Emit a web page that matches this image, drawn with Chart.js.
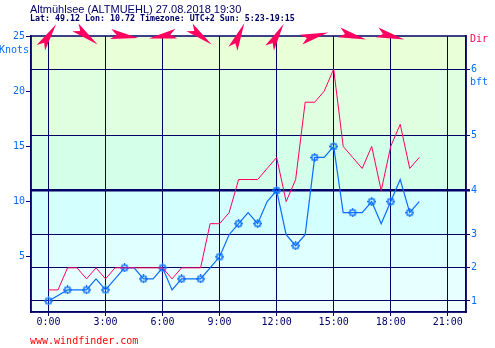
<!DOCTYPE html>
<html>
<head>
<meta charset="utf-8">
<title>Altmühlsee wind</title>
<script src="https://cdn.jsdelivr.net/npm/chart.js@4/dist/chart.umd.min.js"></script>
<style>
  html, body { margin: 0; padding: 0; background: #ffffff; }
  #wrap { width: 495px; height: 348px; position: relative; }
</style>
</head>
<body>
<div id="wrap"><canvas id="windChart" width="495" height="348"></canvas></div>
<script>
// data (knots, local time)
const hours = [0, 0.5, 1, 1.5, 2, 2.5, 3, 3.5, 4, 4.5, 5, 5.5, 6, 6.5, 7, 7.5, 8, 8.5, 9, 9.5,
               10, 10.5, 11, 11.5, 12, 12.5, 13, 13.5, 14, 14.5, 15, 15.5, 16, 16.5, 17, 17.5, 18, 18.5, 19, 19.5];
const windSpeed = [1, 1.5, 2, 2, 2, 3, 2, 3, 4, 4, 3, 3, 4, 2, 3, 3, 3, 4, 5, 7,
                   8, 9, 8, 10, 11, 7, 6, 7, 14, 14, 15, 9, 9, 9, 10, 8, 10, 12, 9, 10];
const windGusts = [2, 2, 4, 4, 3, 4, 3, 4, 4, 4, 4, 4, 4, 3, 4, 4, 4, 8, 8, 9,
                   12, 12, 12, 13, 14, 10, 12, 19, 19, 20, 22, 15, 14, 13, 15, 11, 15, 17, 13, 14];

const dirHours = [0, 2, 4, 6, 8, 10, 12, 14, 16, 18];
const dirFrom = [213, 308, 278, 80, 308, 204, 210, 255, 285, 285];   // degrees, wind comes from

const hourTicks = [0, 3, 6, 9, 12, 15, 18, 21];
const knotTicks = [5, 10, 15, 20, 25];
const bftKnots = [1, 4, 7, 11, 16, 22];
const bftLevels = ["1", "2", "3", "4", "5", "6"];
const bandEdges = [0, 1, 4, 7, 11, 16, 22, 25];
const bandColors = ["#f0ffff", "#e8ffff", "#e0ffff", "#d4ffff", "#d4ffe8", "#e0ffe0", "#e8ffd8"];

const NAVY = "#000066";
const BLUE = "#0a6cff";
const RED = "#ff0060";

document.addEventListener("DOMContentLoaded", () => {
    const canvas = document.querySelector("#windChart");

    // little square marker with crosshair ticks
    const marker = document.createElement("canvas");
    marker.width = 9;
    marker.height = 9;
    const m = marker.getContext("2d");
    m.strokeStyle = BLUE;
    m.lineWidth = 1.3;
    m.strokeRect(2, 2, 5, 5);
    m.beginPath();
    m.moveTo(4.5, 0); m.lineTo(4.5, 2);
    m.moveTo(4.5, 7); m.lineTo(4.5, 9);
    m.moveTo(0, 4.5); m.lineTo(2, 4.5);
    m.moveTo(7, 4.5); m.lineTo(9, 4.5);
    m.stroke();

    const bands = {
        id: "bands",
        beforeDraw(chart) {
            const { ctx, chartArea, scales } = chart;
            ctx.save();
            for (let i = 0; i < bandColors.length; i++) {
                const y1 = scales.y.getPixelForValue(bandEdges[i + 1]);
                const y0 = scales.y.getPixelForValue(bandEdges[i]);
                ctx.fillStyle = bandColors[i];
                ctx.fillRect(chartArea.left, y1, chartArea.right - chartArea.left, y0 - y1);
            }
            ctx.restore();
        }
    };

    const decor = {
        id: "decor",
        afterDraw(chart) {
            const { ctx, chartArea, scales } = chart;
            ctx.save();

            // frame
            ctx.strokeStyle = NAVY;
            ctx.lineWidth = 1.5;
            ctx.strokeRect(chartArea.left, chartArea.top, chartArea.right - chartArea.left, chartArea.bottom - chartArea.top);

            // header
            ctx.fillStyle = NAVY;
            ctx.textBaseline = "alphabetic";
            ctx.textAlign = "left";
            ctx.font = '11px "Liberation Sans"';
            ctx.fillText("Altmühlsee (ALTMUEHL) 27.08.2018 19:30", 30, 13);
            ctx.font = 'bold 8.3px "DejaVu Sans Mono"';
            ctx.fillText("Lat: 49.12 Lon: 10.72 Timezone: UTC+2 Sun: 5:23-19:15", 30, 21);

            // axis captions
            ctx.font = '10px "DejaVu Sans Mono"';
            ctx.fillStyle = BLUE;
            ctx.textAlign = "right";
            ctx.fillText("Knots", 29, 53);
            ctx.textAlign = "left";
            ctx.fillText("bft", 470, 85);
            ctx.fillStyle = RED;
            ctx.fillText("Dir", 470, 42);

            ctx.fillStyle = "#ff0000";
            ctx.fillText("www.windfinder.com", 30, 344);

            // direction darts
            ctx.fillStyle = RED;
            dirHours.forEach((h, i) => {
                const x = scales.x.getPixelForValue(h);
                const y = chartArea.top;
                const to = (dirFrom[i] + 180) * Math.PI / 180;
                const ang = Math.atan2(-Math.cos(to), Math.sin(to));
                ctx.save();
                ctx.translate(x, y);
                ctx.rotate(ang);
                ctx.beginPath();
                ctx.moveTo(14, 0);
                ctx.lineTo(-14, -5);
                ctx.lineTo(-8, 0);
                ctx.lineTo(-14, 5);
                ctx.closePath();
                ctx.fill();
                ctx.restore();
            });
            ctx.restore();
        }
    };

    const monoFont = { family: "DejaVu Sans Mono", size: 10 };

    new Chart(canvas, {
        type: "line",
        data: {
            datasets: [
                {
                    label: "Gusts",
                    data: hours.map((h, i) => ({ x: h, y: windGusts[i] })),
                    borderColor: RED,
                    borderWidth: 1,
                    pointRadius: 0,
                    tension: 0,
                    yAxisID: "y"
                },
                {
                    label: "Wind",
                    data: hours.map((h, i) => ({ x: h, y: windSpeed[i] })),
                    borderColor: BLUE,
                    borderWidth: 1.2,
                    pointStyle: marker,
                    pointRadius: ctx => (Number.isInteger(hours[ctx.dataIndex]) ? 4 : 0),
                    pointHoverRadius: 0,
                    tension: 0,
                    yAxisID: "y"
                }
            ]
        },
        options: {
            responsive: false,
            animation: false,
            events: [],
            layout: { padding: { top: 36, left: 0, right: 0, bottom: 0 } },
            plugins: {
                legend: { display: false },
                tooltip: { enabled: false }
            },
            scales: {
                x: {
                    type: "linear",
                    min: -0.92,
                    max: 21.96,
                    afterBuildTicks: s => { s.ticks = hourTicks.map(v => ({ value: v })); },
                    afterFit: s => { s.height = 36; },
                    grid: { color: NAVY, lineWidth: 1, tickLength: 4 },
                    border: { color: NAVY, width: 1.5 },
                    ticks: {
                        color: NAVY,
                        font: monoFont,
                        padding: 0,
                        maxRotation: 0,
                        autoSkip: false,
                        callback: v => v + ":00"
                    }
                },
                y: {
                    type: "linear",
                    position: "left",
                    min: 0,
                    max: 25,
                    afterBuildTicks: s => { s.ticks = knotTicks.map(v => ({ value: v })); },
                    afterFit: s => { s.width = 31; },
                    grid: { drawOnChartArea: false, color: NAVY, tickLength: 5 },
                    border: { color: NAVY, width: 1.5 },
                    ticks: { color: BLUE, font: monoFont, padding: 1 }
                },
                bft: {
                    type: "linear",
                    position: "right",
                    min: 0,
                    max: 25,
                    afterBuildTicks: s => { s.ticks = bftKnots.map(v => ({ value: v })); },
                    afterFit: s => { s.width = 29; },
                    grid: {
                        color: NAVY,
                        lineWidth: ctx => (ctx.tick && ctx.tick.value === 11 ? 2.5 : 1),
                        tickLength: 4
                    },
                    border: { color: NAVY, width: 1.5 },
                    ticks: {
                        color: BLUE,
                        font: monoFont,
                        padding: 1,
                        callback: (v, i) => bftLevels[i]
                    }
                }
            }
        },
        plugins: [bands, decor]
    });
});
</script>
</body>
</html>
